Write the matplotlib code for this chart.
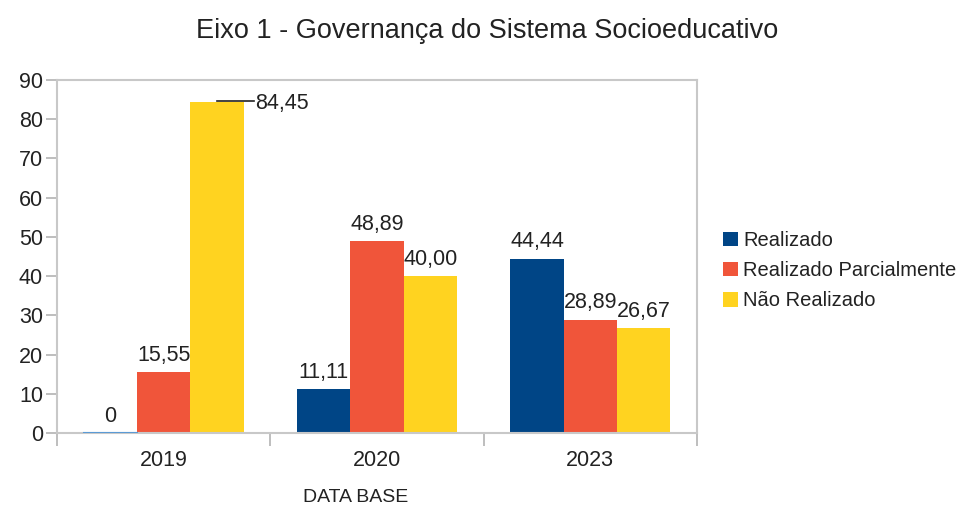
import matplotlib
matplotlib.use("Agg")
import matplotlib.pyplot as plt
import numpy as np

categories = ["2019", "2020", "2023"]
series_names = ["Realizado", "Realizado Parcialmente", "Não Realizado"]
realizado = [0, 11.11, 44.44]
parcial = [15.55, 48.89, 28.89]
nao_realizado = [84.45, 40.00, 26.67]
labels_realizado = ["0", "11,11", "44,44"]
labels_parcial = ["15,55", "48,89", "28,89"]
labels_nao = ["84,45", "40,00", "26,67"]
yticks = [0, 10, 20, 30, 40, 50, 60, 70, 80, 90]

colors = ["#004586", "#f0553a", "#ffd320"]
plt.rcParams['font.family'] = ['Liberation Sans', 'DejaVu Sans']
FS = 15.5
TC = "#222222"

fig = plt.figure(figsize=(9.69, 5.08), dpi=100)
ax = fig.add_axes([57/969, 1 - 433/508, (697-57)/969, (433-80)/508])

x = np.arange(len(categories))
w = 0.25
data = [realizado, parcial, nao_realizado]
labs = [labels_realizado, labels_parcial, labels_nao]
for i, (vals, lab) in enumerate(zip(data, labs)):
    pos = x + (i - 1) * w
    ax.bar(pos, vals, width=w, color=colors[i], label=series_names[i], zorder=2)
    for j, (p, v, t) in enumerate(zip(pos, vals, lab)):
        if i == 0 and j == 0:
            ax.plot([p - w/2, p + w/2], [0, 0], color="#5b9bd5", lw=1.5, zorder=3)
        if v > 80:
            ax.plot([p, p + w/2 + 0.05], [v + 0.3, v + 0.3], color=TC, lw=1.2, zorder=3)
            ax.text(p + w/2 + 0.055, v - 0.5, t, ha="left", va="center", fontsize=FS, color=TC)
        else:
            ax.text(p, v + 1.6, t, ha="center", va="bottom", fontsize=FS, color=TC)

ax.set_xlim(-0.5, 2.5)
ax.set_ylim(0, 90)
ax.set_yticks(yticks)
ax.set_yticklabels([str(t) for t in yticks], fontsize=FS, color=TC)
ax.set_xticks(x)
ax.set_xticklabels(categories, fontsize=FS, color=TC)
ax.set_xticks([-0.5, 0.5, 1.5, 2.5], minor=True)
ax.tick_params(axis="x", which="major", length=0, pad=12)
ax.tick_params(axis="x", which="minor", length=9, color="#b3b3b3", width=1.2)
ax.tick_params(axis="y", length=8, color="#b3b3b3", width=1.2, pad=2)
for s in ax.spines.values():
    s.set_color("#c8c8c8")
    s.set_linewidth(1.5)

fig.text(487/969, 1 - 31/508, "Eixo 1 - Governança do Sistema Socioeducativo",
         ha="center", va="center", fontsize=19.5, color=TC)
fig.text(356/969, 1 - 497/508, "DATA BASE", ha="center", va="center", fontsize=14, color=TC)

leg = fig.legend(loc="upper left", bbox_to_anchor=(715/969, 1 - 223/508), frameon=False,
                 fontsize=14.5, handlelength=0.75, handleheight=0.75, handletextpad=0.25,
                 labelspacing=0.55, borderaxespad=0)
for t in leg.get_texts():
    t.set_color(TC)

fig.savefig("out.png", dpi=100, facecolor="white")
